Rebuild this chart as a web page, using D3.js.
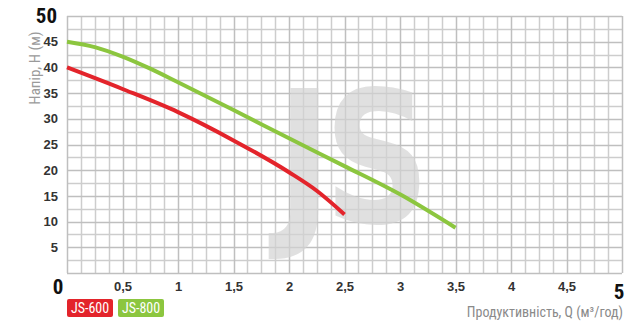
<!DOCTYPE html>
<html><head><meta charset="utf-8">
<script src="https://cdn.jsdelivr.net/npm/d3@7"></script>
<style>
body{margin:0;background:#fff;}
text{font-family:"Liberation Sans Narrow","Roboto Condensed","DejaVu Sans Condensed",sans-serif;}
</style></head>
<body><svg id="c" width="640" height="325"></svg>
<script>
const seriesNames = ["JS-600", "JS-800"];
const seriesColors = ["#e3242b", "#8cc63f"];
const q600 = [0, 0.5, 1, 1.5, 2, 2.25, 2.5];
const h600 = [40, 35.8, 31.3, 25.8, 19.6, 16.0, 11.4];
const q800 = [0, 0.25, 0.5, 0.75, 1, 1.5, 2, 2.5, 3, 3.5];
const h800 = [45, 43.95, 42.1, 39.75, 37.1, 31.7, 26.2, 20.8, 15.3, 8.8];
const xTicks = [0.5, 1, 1.5, 2, 2.5, 3, 3.5, 4, 4.5];
const xTickLabels = ["0,5", "1", "1,5", "2", "2,5", "3", "3,5", "4", "4,5"];
const yTicks = [5, 10, 15, 20, 25, 30, 35, 40, 45];
const yTitle = "Напір, Н (м)";
const xTitle = "Продуктивність, Q (м³/год)";

const svg = d3.select("#c");
const L = 67, R = 622, T = 16, B = 273;
const x = d3.scaleLinear().domain([0, 5]).range([L, R]);
const y = d3.scaleLinear().domain([0, 50]).range([B, T]);

// grid via paths
const vVals = d3.range(0, 41).map(k => k * 0.125);
const hVals = d3.range(0, 21).map(k => k * 2.5);
function gridPath(major) {
  const p = d3.path();
  vVals.forEach((d, i) => { if ((i % 4 === 0) === major) { const px = Math.round(x(d)) + 0.5; p.moveTo(px, T); p.lineTo(px, B); } });
  hVals.forEach((d, i) => { if ((i % 2 === 0) === major) { const py = Math.round(y(d)) + 0.5; p.moveTo(L, py); p.lineTo(R, py); } });
  return p.toString();
}
svg.append("path").attr("d", gridPath(false)).attr("fill", "none").attr("stroke", "#cdcdcd").attr("stroke-width", 1.5);
svg.append("path").attr("d", gridPath(true)).attr("fill", "none").attr("stroke", "#bfbfbf").attr("stroke-width", 1.5);

// watermark
const wm = svg.append("text").attr("transform", "translate(277,222) scale(0.775,0.97)")
  .attr("font-size", 190).attr("font-weight", "bold")
  .attr("fill", "#d4d4d4").attr("opacity", 0.7)
  .style("font-family", "'DejaVu Sans', sans-serif");
wm.append("tspan").text("J");
wm.append("tspan").attr("dx", -10).text("S");

// curves
const line = d3.line().x(d => x(d[0])).y(d => y(d[1])).curve(d3.curveMonotoneX);
svg.append("path").datum(q800.map((q, i) => [q, h800[i]])).attr("d", line)
  .attr("fill", "none").attr("stroke", seriesColors[1]).attr("stroke-width", 4);
svg.append("path").datum(q600.map((q, i) => [q, h600[i]])).attr("d", line)
  .attr("fill", "none").attr("stroke", seriesColors[0]).attr("stroke-width", 4);

// axes
const yAxis = d3.axisLeft(y).tickValues(yTicks).tickSize(0).tickPadding(0);
const ya = svg.append("g").attr("transform", `translate(${L - 9},0)`).call(yAxis);
ya.select(".domain").remove();
ya.selectAll("text").attr("font-size", 13).attr("fill", "#333").attr("font-weight", "bold")
  .style("font-family", "'Liberation Sans Narrow', sans-serif");

const xAxis = d3.axisBottom(x).tickValues(xTicks).tickFormat((d, i) => xTickLabels[i]).tickSize(0).tickPadding(0);
const xa = svg.append("g").attr("transform", `translate(0,${B + 9})`).call(xAxis);
xa.select(".domain").remove();
xa.selectAll("text").attr("font-size", 13).attr("fill", "#333").attr("font-weight", "bold")
  .style("font-family", "'Liberation Sans Narrow', sans-serif");

// big end labels
svg.append("text").text("50").attr("x", 57).attr("y", 23).attr("text-anchor", "end")
  .attr("font-size", 21).attr("font-weight", "bold").attr("fill", "#111");
svg.append("text").text("0").attr("x", 58).attr("y", 294).attr("text-anchor", "middle")
  .attr("font-size", 21).attr("font-weight", "bold").attr("fill", "#111");
svg.append("text").text("5").attr("x", 619).attr("y", 299).attr("text-anchor", "middle")
  .attr("font-size", 21).attr("font-weight", "bold").attr("fill", "#111");

// titles
svg.append("text").text(yTitle).attr("transform", "translate(40,68) rotate(-90)")
  .attr("text-anchor", "middle").attr("font-size", 15).attr("fill", "#9a9a9a");
svg.append("text").text(xTitle).attr("x", 623).attr("y", 317).attr("text-anchor", "end")
  .attr("font-size", 14).attr("fill", "#8a8a8a");

// legend
const lg = svg.append("g");
seriesNames.forEach((n, i) => {
  const lx = 67 + i * 51;
  lg.append("rect").attr("x", lx).attr("y", 299).attr("width", 46).attr("height", 18)
    .attr("rx", 2).attr("fill", seriesColors[i]);
  lg.append("text").text(n).attr("x", lx + 23).attr("y", 313).attr("text-anchor", "middle")
    .attr("font-size", 14).attr("fill", "#fff");
});
</script></body></html>
